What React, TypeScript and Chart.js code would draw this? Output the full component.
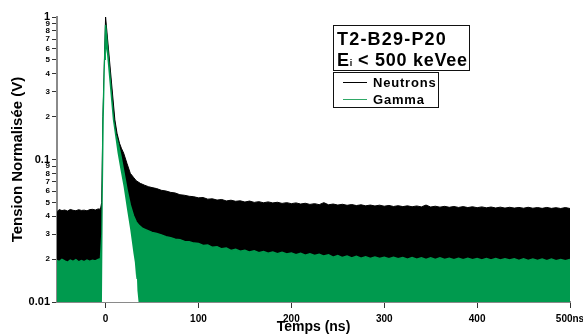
import React, { useEffect, useRef } from "react";
import { Chart, registerables } from "chart.js";

Chart.register(...registerables);

const GREEN = "#009a4e";
const FONT = "'Liberation Sans', Arial, Helvetica, sans-serif";

// Neutrons: upper envelope of the trace (V, normalised) vs time (ns)
const neutronT = [
  -52.3, -50, -47, -44, -41, -38, -35, -32, -29, -26, -23, -20, -17, -14, -11, -8, -5.5,
  -4.2, -2.8, 0, 10, 12.3, 15, 17, 19.4, 23, 26.6, 30, 33, 37.4, 42, 46, 50,
  55, 60, 65, 70, 75, 80, 85, 90, 95, 100, 105, 110, 115, 120, 125, 130, 135, 140, 145, 150,
  155, 160, 165, 170, 175, 180, 185, 190, 195, 200, 205, 210, 215, 220, 225, 230, 235, 240, 245, 250,
  255, 260, 265, 270, 275, 280, 285, 290, 295, 300, 305, 310, 315, 320, 325, 330, 335, 340, 345, 350,
  355, 360, 365, 370, 375, 380, 385, 390, 395, 400, 405, 410, 415, 420, 425, 430, 435, 440, 445, 450,
  455, 460, 465, 470, 475, 480, 485, 490, 495, 500,
];
const neutronV = [
  0.043, 0.0445, 0.0438, 0.0442, 0.0435, 0.0446, 0.044, 0.0437, 0.0444, 0.0439, 0.0441, 0.0436, 0.0445, 0.0447, 0.0442, 0.045, 0.0448,
  0.05, 0.2, 1.0, 0.19, 0.153, 0.13, 0.12, 0.111, 0.094, 0.08, 0.075, 0.071, 0.068, 0.066, 0.0645, 0.0635,
  0.0625, 0.0608, 0.0601, 0.0588, 0.0582, 0.0566, 0.0561, 0.0552, 0.0548, 0.0538, 0.0541, 0.0527, 0.053, 0.0519, 0.0524, 0.0512, 0.0518, 0.0509, 0.0513, 0.0503,
  0.0511, 0.05, 0.0506, 0.0497, 0.0504, 0.0496, 0.0501, 0.0492, 0.0498, 0.049, 0.0496, 0.0487, 0.0493, 0.0484, 0.049, 0.0482, 0.0498, 0.0481, 0.0487, 0.0479,
  0.0485, 0.0477, 0.0483, 0.0475, 0.0481, 0.0473, 0.0479, 0.0472, 0.0478, 0.047, 0.0476, 0.0468, 0.0474, 0.0467, 0.0473, 0.0466, 0.0472, 0.0465, 0.0479, 0.0464,
  0.047, 0.0463, 0.0469, 0.0462, 0.0468, 0.0461, 0.0467, 0.046, 0.0466, 0.0459, 0.0465, 0.0458, 0.0464, 0.0457, 0.0463, 0.0456, 0.0462, 0.0456, 0.0461, 0.0455,
  0.0462, 0.0455, 0.046, 0.0454, 0.0461, 0.0454, 0.0459, 0.0453, 0.046, 0.0453,
];

// Gamma: upper envelope of the trace
const gammaT = [
  -52.3, -50, -47, -44, -41, -38, -35, -32, -29, -26, -23, -20, -17, -14, -11, -8, -5.5,
  -4.0, -2.8, 0, 8.6, 11, 14, 16.5, 19.5, 23, 26.6, 30, 33, 36, 40, 45, 50,
  55, 60, 65, 70, 75, 80, 85, 90, 95, 100, 105, 110, 115, 120, 125, 130, 135, 140, 145, 150,
  155, 160, 165, 170, 175, 180, 185, 190, 195, 200, 205, 210, 215, 220, 225, 230, 235, 240, 245, 250,
  255, 260, 265, 270, 275, 280, 285, 290, 295, 300, 305, 310, 315, 320, 325, 330, 335, 340, 345, 350,
  355, 360, 365, 370, 375, 380, 385, 390, 395, 400, 405, 410, 415, 420, 425, 430, 435, 440, 445, 450,
  455, 460, 465, 470, 475, 480, 485, 490, 495, 500,
];
const gammaV = [
  0.0196, 0.0192, 0.0199, 0.0194, 0.019, 0.0197, 0.0193, 0.0198, 0.0191, 0.0195, 0.0192, 0.0197, 0.0193, 0.0196, 0.0194, 0.0199, 0.0201,
  0.03, 0.19, 0.88, 0.19, 0.15, 0.126, 0.106, 0.083, 0.062, 0.048, 0.0405, 0.0365, 0.0345, 0.0328, 0.0318, 0.0308,
  0.0302, 0.0296, 0.0287, 0.0283, 0.0276, 0.0274, 0.0266, 0.0265, 0.0259, 0.0257, 0.0249, 0.0251, 0.0242, 0.0244, 0.0236, 0.0239, 0.023, 0.0234, 0.0227, 0.0231,
  0.0224, 0.0229, 0.0222, 0.0226, 0.022, 0.0224, 0.0218, 0.0223, 0.0217, 0.0221, 0.0215, 0.022, 0.0213, 0.0218, 0.0212, 0.0216, 0.021, 0.0214, 0.0206, 0.0212,
  0.0205, 0.021, 0.0204, 0.0209, 0.0203, 0.0208, 0.0202, 0.0207, 0.0202, 0.0206, 0.0201, 0.0206, 0.0201, 0.0205, 0.02, 0.0205, 0.02, 0.0204, 0.0199, 0.0204,
  0.0199, 0.0204, 0.0199, 0.0203, 0.0198, 0.0203, 0.0198, 0.0203, 0.0198, 0.0202, 0.0197, 0.0202, 0.0197, 0.0202, 0.0197, 0.0201, 0.0197, 0.0201, 0.0196, 0.0201,
  0.0196, 0.02, 0.0196, 0.02, 0.0195, 0.02, 0.0195, 0.0199, 0.0195, 0.0199,
];

// Lower envelope during the pulse (noise never reaches the floor here)
const gapT = [-52.3, -3.9, -3.0, -1.9, -0.5, 0.4, 1.5, 7.8, 12.9, 16, 19.4, 23, 26.6, 30, 31.5, 32.3, 33, 33.6, 34.3, 35.5, 500];
const gapV = [0.01, 0.01, 0.05, 0.19, 0.5, 0.6, 0.55, 0.19, 0.111, 0.085, 0.0645, 0.045, 0.032, 0.022, 0.019, 0.0165, 0.0145, 0.016, 0.012, 0.01, 0.01];

const xTicks = [0, 100, 200, 300, 400, 500];
const xTickLabels = ["0", "100", "200", "300", "400", "500ns"];
const yTicks = [
  0.01, 0.02, 0.03, 0.04, 0.05, 0.06, 0.07, 0.08, 0.09,
  0.1, 0.2, 0.3, 0.4, 0.5, 0.6, 0.7, 0.8, 0.9, 1,
];
const yMajorLabels: Record<string, string> = { "0.01": "0.01", "0.1": "0.1", "1": "1" };

const pts = (t: number[], v: number[]) => t.map((x, i) => ({ x, y: v[i] }));
const isMajor = (v: number) => Math.abs(Math.log10(v) - Math.round(Math.log10(v))) < 1e-6;

export default function App() {
  const ref = useRef<HTMLCanvasElement>(null);

  useEffect(() => {
    if (!ref.current) return;
    const chart = new Chart(ref.current, {
      type: "line",
      data: {
        datasets: [
          {
            label: "gap",
            data: pts(gapT, gapV),
            borderWidth: 0,
            borderColor: "rgba(0,0,0,0)",
            backgroundColor: "#ffffff",
            fill: "start",
            pointRadius: 0,
          },
          {
            label: "Gamma",
            data: pts(gammaT, gammaV),
            borderWidth: 1.5,
            borderColor: GREEN,
            backgroundColor: GREEN,
            fill: "start",
            pointRadius: 0,
          },
          {
            label: "Neutrons",
            data: pts(neutronT, neutronV),
            borderWidth: 1,
            borderColor: "#000000",
            backgroundColor: "#000000",
            fill: "start",
            pointRadius: 0,
          },
        ],
      },
      options: {
        animation: false,
        responsive: true,
        maintainAspectRatio: false,
        layout: { padding: { top: 17, right: 13, left: 0, bottom: 0 } },
        plugins: { legend: { display: false }, tooltip: { enabled: false } },
        scales: {
          x: {
            type: "linear",
            min: -52.3,
            max: 500,
            afterBuildTicks: (s: any) => {
              s.ticks = xTicks.map((v) => ({ value: v }));
            },
            afterFit: (s: any) => {
              s.height = 34;
              s.paddingLeft = 0;
              s.paddingRight = 0;
            },
            ticks: {
              autoSkip: false,
              maxRotation: 0,
              padding: 5,
              color: "#000",
              font: { family: FONT, size: 10, weight: "bold" },
              callback: (v: any) => {
                const i = xTicks.indexOf(Number(v));
                return i >= 0 ? xTickLabels[i] : "";
              },
            },
            grid: { drawOnChartArea: false, tickLength: 6, tickColor: "#333", tickWidth: 1 },
            border: { color: "#8a8a8a", width: 2 },
            title: {
              display: true,
              text: "Temps (ns)",
              color: "#000",
              font: { family: FONT, size: 14, weight: "bold" },
              padding: { top: 0, bottom: 0 },
            },
          },
          y: {
            type: "logarithmic",
            min: 0.01,
            max: 1,
            afterBuildTicks: (s: any) => {
              s.ticks = yTicks.map((v) => ({ value: v, major: isMajor(v) }));
            },
            afterFit: (s: any) => {
              s.width = 57;
              s.paddingTop = 0;
              s.paddingBottom = 0;
            },
            ticks: {
              autoSkip: false,
              padding: 2,
              color: "#000",
              font: (ctx: any) => {
                const v = ctx.tick ? ctx.tick.value : 1;
                return isMajor(v)
                  ? { family: FONT, size: 11, weight: "bold" }
                  : { family: FONT, size: 8, weight: "bold" };
              },
              callback: (v: any) => {
                const n = Number(v);
                if (isMajor(n)) {
                  const key = String(Math.round(n * 100) / 100);
                  return yMajorLabels[key] ?? key;
                }
                const m = Math.round(n / Math.pow(10, Math.floor(Math.log10(n) + 1e-9)));
                return String(m);
              },
            },
            grid: { drawOnChartArea: false, tickLength: 5, tickColor: "#333", tickWidth: 1 },
            border: { color: "#8a8a8a", width: 2 },
            title: {
              display: true,
              text: "Tension Normalisée (V)",
              color: "#000",
              font: { family: FONT, size: 15, weight: "bold" },
              padding: { top: 9, bottom: 0 },
            },
          },
        },
      },
    } as any);
    return () => chart.destroy();
  }, []);

  const boxText: React.CSSProperties = {
    position: "absolute",
    fontFamily: FONT,
    fontWeight: "bold",
    color: "#000",
    whiteSpace: "nowrap",
  };

  return (
    <div style={{ position: "absolute", left: 0, top: 0, width: 583, height: 336, background: "#fff" }}>
      <canvas ref={ref} />
      <div
        style={{
          position: "absolute",
          left: 333,
          top: 25,
          width: 135,
          height: 44,
          border: "1px solid #111",
          background: "#fff",
        }}
      />
      <div style={{ ...boxText, left: 337, top: 30, fontSize: 18, lineHeight: "18px", letterSpacing: "1.2px" }}>
        T2-B29-P20
      </div>
      <div style={{ ...boxText, left: 337, top: 50.5, fontSize: 18, lineHeight: "18px", letterSpacing: "0.75px" }}>
        E<span style={{ fontSize: 9, letterSpacing: "0px" }}>i</span> &lt; 500 keVee
      </div>
      <div
        style={{
          position: "absolute",
          left: 333,
          top: 72,
          width: 104,
          height: 34,
          border: "1px solid #111",
          background: "#fff",
        }}
      />
      <div style={{ position: "absolute", left: 343, top: 82, width: 24, height: 1, background: "#000" }} />
      <div style={{ position: "absolute", left: 343, top: 99, width: 24, height: 1, background: "#2fa866" }} />
      <div style={{ ...boxText, left: 373, top: 75.6, fontSize: 13, lineHeight: "13px", letterSpacing: "0.8px" }}>
        Neutrons
      </div>
      <div style={{ ...boxText, left: 373, top: 93.3, fontSize: 13, lineHeight: "13px", letterSpacing: "0.8px" }}>
        Gamma
      </div>
    </div>
  );
}
